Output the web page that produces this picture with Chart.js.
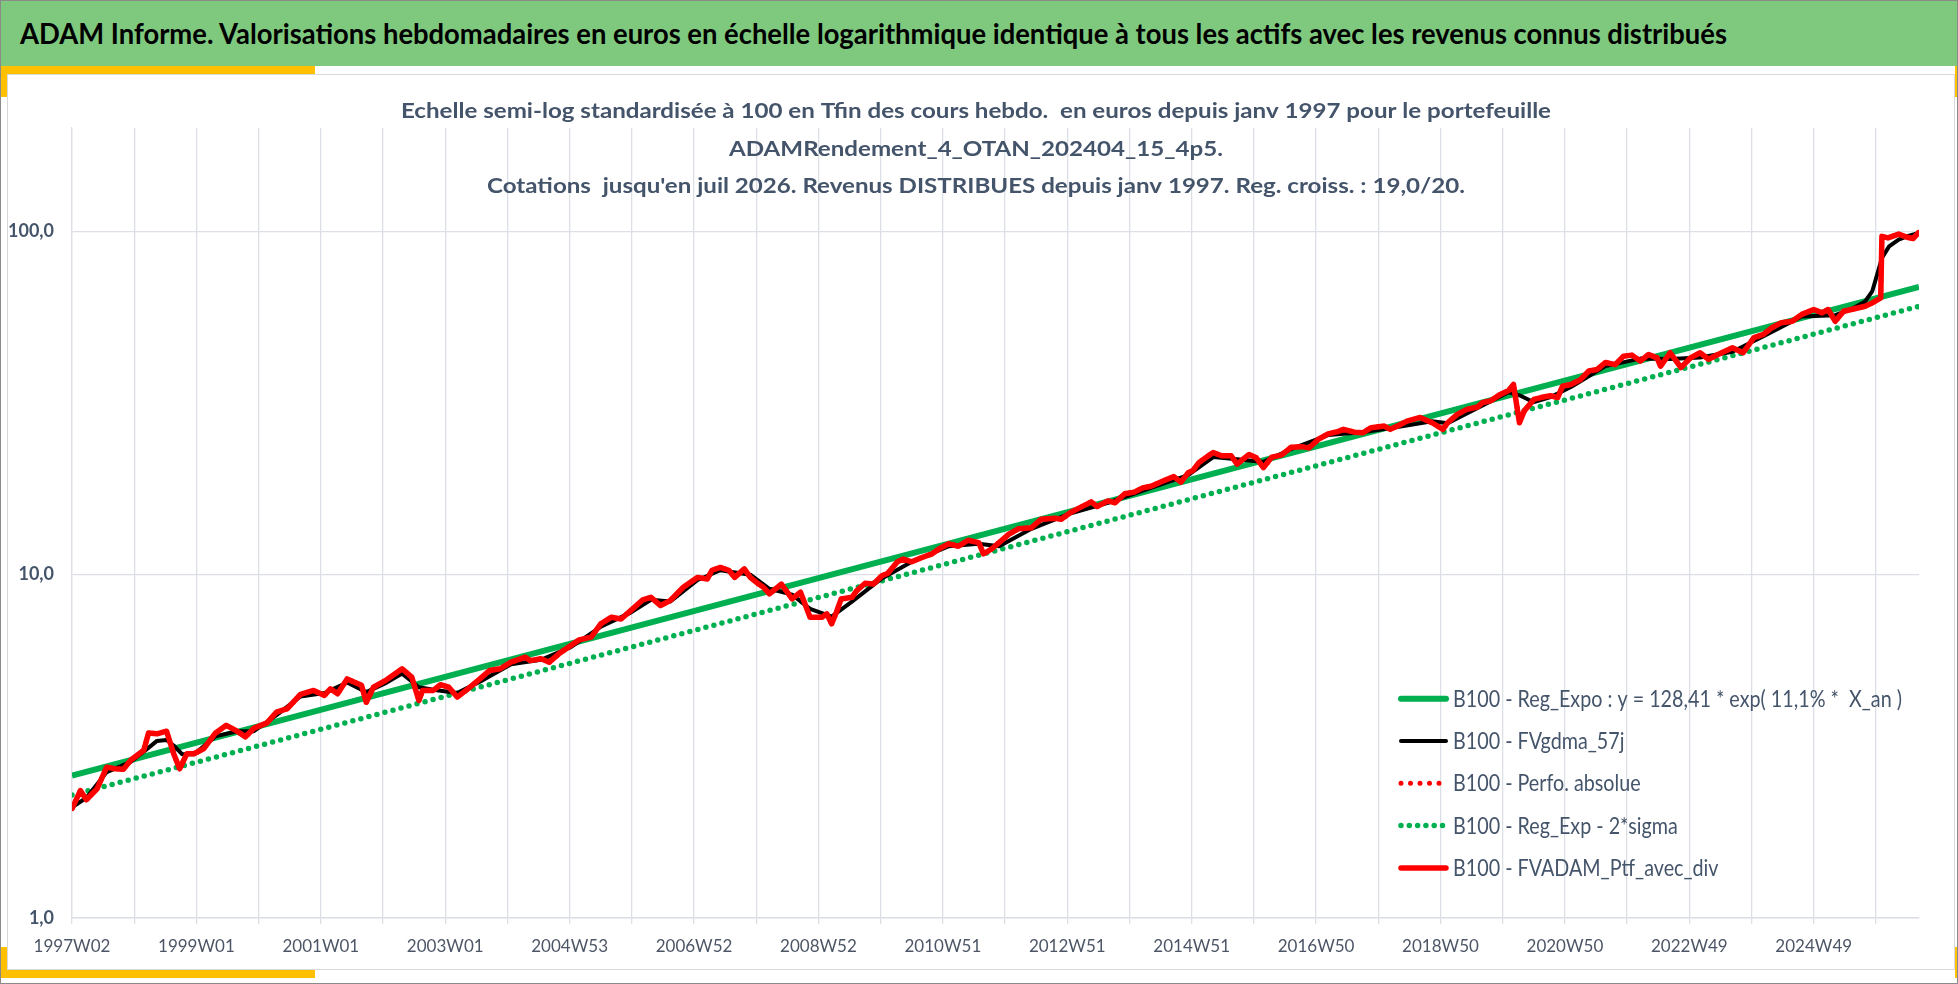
<!DOCTYPE html>
<html>
<head>
<meta charset="utf-8">
<script src="https://cdn.jsdelivr.net/npm/chart.js@4.4.1/dist/chart.umd.min.js"></script>
<style>
html,body{margin:0;padding:0;background:#fff;}
#page{position:relative;width:1958px;height:984px;overflow:hidden;background:#fff;}
.abs{position:absolute;}
#header{left:0;top:0;width:1958px;height:66px;background:#7FC97F;}
#headerText{position:absolute;left:20px;top:0;height:66px;line-height:66px;white-space:nowrap;font-family:Lato,'Noto Sans',sans-serif;font-weight:700;color:#000;transform-origin:0 50%;}
.yel{background:#FFC000;}
#panel{left:7px;top:74px;width:1948px;height:896px;box-sizing:border-box;border:1px solid #D9D9D9;}
#frame{left:0;top:0;width:1958px;height:984px;box-sizing:border-box;border:1px solid #8A8A8A;pointer-events:none;}
#c{position:absolute;left:0;top:0;}
</style>
</head>
<body>
<div id="page">
  <div id="header" class="abs"><div id="headerText"></div></div>
  <div class="abs yel" style="left:0;top:66px;width:315px;height:8px"></div>
  <div class="abs yel" style="left:0;top:66px;width:7px;height:31px"></div>
  <div class="abs yel" style="left:1955px;top:66px;width:3px;height:31px"></div>
  <div id="panel" class="abs"></div>
  <div class="abs yel" style="left:0;top:947px;width:7px;height:31px"></div>
  <div class="abs yel" style="left:0;top:970px;width:315px;height:8px"></div>
  <div class="abs yel" style="left:1955px;top:947px;width:3px;height:31px"></div>
  <canvas id="c" width="1958" height="984"></canvas>
  <div id="frame" class="abs"></div>
</div>
<script>
// ---------- DATA ----------
const headerTitle = "ADAM Informe. Valorisations hebdomadaires en euros en échelle logarithmique identique à tous les actifs avec les revenus connus distribués";
const subtitleLines = [
  "Echelle semi-log standardisée à 100 en Tfin des cours hebdo.  en euros depuis janv 1997 pour le portefeuille",
  "ADAMRendement_4_OTAN_202404_15_4p5.",
  "Cotations  jusqu'en juil 2026. Revenus DISTRIBUES depuis janv 1997. Reg. croiss. : 19,0/20."
];
// x tick labels (every 104 weeks from 1997W02)
const xTickLabels = ['1997W02','1999W01','2001W01','2003W01','2004W53','2006W52','2008W52','2010W51','2012W51','2014W51','2016W50','2018W50','2020W50','2022W49','2024W49'];
const yTickValues = [1, 10, 100];

// week index since 1997W02
const ptfWeeks = [
  0,7,12,21,29,36,43,49,60,64,
  71,79,85,90,96,102,110,120,129,138,
  145,152,163,171,180,191,202,211,216,222,
  230,242,246,252,263,276,284,290,293,302,
  308,315,322,331,341,349,358,367,379,383,
  392,399,407,417,424,434,442,451,459,467,
  477,484,492,500,511,523,531,535,542,549,
  554,562,567,574,578,583,593,602,609,617,
  627,631,635,639,643,652,656,663,670,677,
  682,690,695,702,710,719,725,733,741,749,
  758,762,769,775,783,791,802,810,822,827,
  835,843,852,857,866,872,880,888,895,902,
  913,921,927,933,937,942,950,954,961,969,
  974,979,984,990,996,1003,1011,1019,1028,1034,
  1042,1050,1058,1063,1072,1079,1086,1097,1102,1108,
  1116,1127,1137,1146,1150,1158,1166,1175,1179,1186,
  1194,1201,1205,1210,1214,1222,1228,1236,1242,1246,
  1253,1261,1268,1275,1282,1290,1297,1304,1311,1318,
  1325,1328,1336,1345,1353,1361,1368,1376,1388,1397,
  1406,1414,1421,1429,1438,1446,1456,1463,1468,1474,
  1481,1491,1499,1505,1512,1513,1518,1527,1534,1539,
  1544
];
const ptfValues = [
  2.08,2.35,2.21,2.38,2.75,2.72,2.71,2.88,3.08,3.46,
  3.44,3.50,3.01,2.72,3.01,3.01,3.11,3.46,3.64,3.50,
  3.37,3.57,3.70,3.98,4.07,4.48,4.60,4.45,4.65,4.50,
  4.97,4.76,4.25,4.70,4.94,5.32,5.03,4.30,4.60,4.60,
  4.78,4.70,4.40,4.65,4.97,5.26,5.32,5.56,5.75,5.62,
  5.69,5.56,5.88,6.22,6.46,6.58,7.19,7.52,7.43,7.86,
  8.44,8.59,8.13,8.40,9.19,9.82,9.71,10.3,10.5,10.3,
  9.82,10.4,9.82,9.39,9.19,8.79,9.39,8.50,8.89,7.52,
  7.52,7.69,7.19,7.77,8.50,8.59,8.98,9.44,9.39,9.93,
  10.1,10.9,11.1,10.9,11.2,11.5,11.9,12.3,12.1,12.6,
  12.4,11.5,11.9,12.4,13.1,13.6,13.7,14.5,14.6,14.5,
  15.2,15.7,16.3,15.8,16.4,16.2,17.2,17.4,17.9,18.1,
  18.8,19.3,18.6,19.8,20.1,21.2,22.2,22.7,22.2,22.2,
  21.0,21.7,22.4,21.9,20.5,22.0,22.3,23.5,23.6,23.4,
  24.8,25.7,26.1,26.5,26.0,25.9,26.8,27.1,26.5,27.1,
  28.0,28.7,27.7,26.5,27.7,29.3,30.3,30.8,31.7,32.1,
  33.5,34.4,35.8,27.7,30.0,32.4,32.8,33.2,32.8,35.4,
  35.8,37.0,39.2,39.6,41.5,40.9,43.3,43.6,41.9,43.8,
  42.8,40.5,44.3,40.1,42.8,44.3,42.4,43.8,45.8,44.3,
  49.0,50.1,52.4,54.2,54.7,57.3,59.2,57.9,59.2,54.7,
  58.5,59.6,60.5,61.9,64.0,96.7,95.7,98.2,96.1,95.3,
  99.5
];
const gdmaWeeks = [
  0,12,29,49,60,71,79,85,92,102,
  120,138,152,171,191,211,230,246,263,276,
  290,302,322,341,367,392,417,442,467,484,
  500,523,542,567,583,602,617,635,652,677,
  702,733,758,775,802,835,866,902,933,954,
  974,996,1019,1050,1079,1108,1137,1150,1175,1201,
  1210,1222,1236,1253,1282,1311,1336,1361,1388,1414,
  1446,1474,1488,1499,1505,1509,1513,1519,1527,1535,
  1544
];
const gdmaValues = [
  2.10,2.24,2.66,2.85,3.05,3.28,3.30,3.18,3.00,3.00,
  3.38,3.50,3.50,3.90,4.42,4.52,4.85,4.55,4.85,5.15,
  4.70,4.62,4.52,4.88,5.48,5.65,6.15,7.05,7.75,8.45,
  8.35,9.65,10.3,10.0,9.1,8.75,7.95,7.55,8.35,9.75,
  10.9,12.1,12.3,12.1,13.6,15.1,16.2,17.9,19.5,22.0,
  21.7,21.3,23.2,25.5,26.0,26.9,28.0,27.6,30.6,34.0,
  33.3,31.8,32.9,35.2,40.5,42.6,42.5,42.9,44.6,49.5,
  56.5,57.0,59.5,62.5,67.0,74.8,83.6,90.4,94.6,97.0,
  99.0
];
const regWeeks = [0, 1544];
const regValues = [2.60, 68.9];
const sigmaValues = [2.28, 60.5];

const seriesLabels = {
  reg: 'B100 - Reg_Expo : y = 128,41 * exp( 11,1% *  X_an )',
  gdma: 'B100 - FVgdma_57j',
  perfo: 'B100 - Perfo. absolue',
  sigma: 'B100 - Reg_Exp - 2*sigma',
  ptf: 'B100 - FVADAM_Ptf_avec_div'
};

// ---------- STYLE ----------
const GRID = '#DCDFE6';
const SLATE = '#44546A';
const FAMILY = 'Lato, "Noto Sans", sans-serif';

const measureCtx = document.createElement('canvas').getContext('2d');
function widthAt(text, weight, size) {
  measureCtx.font = weight + ' ' + size + 'px ' + FAMILY;
  return measureCtx.measureText(text).width;
}
// font sizes chosen by glyph height, condensed horizontally to the reference widths
const headerSize = 28;
const headerScale = 1708 / widthAt(headerTitle, 700, headerSize);
const subSize = 21.5;
const subScale = 1150 / widthAt(subtitleLines[0], 700, subSize);
const legSize = 22.3;
const legScale = 449 / widthAt(seriesLabels.reg, 400, legSize);

const ht = document.getElementById('headerText');
ht.textContent = headerTitle;
ht.style.fontSize = headerSize + 'px';
ht.style.transform = 'scaleX(' + headerScale.toFixed(4) + ')';

const pts = (ws, vs) => ws.map((w, i) => ({x: w, y: vs[i]}));

const datasets = [
  {label: seriesLabels.ptf, data: pts(ptfWeeks, ptfValues), borderColor: '#FF0000', borderWidth: 5.5, order: 0},
  {label: seriesLabels.perfo, data: pts(ptfWeeks, ptfValues), borderColor: '#FF0000', borderWidth: 5, borderDash: [0, 9.5], borderCapStyle: 'round', order: 1},
  {label: seriesLabels.gdma, data: pts(gdmaWeeks, gdmaValues), borderColor: '#000000', borderWidth: 4, order: 2},
  {label: seriesLabels.sigma, data: pts(regWeeks, sigmaValues), borderColor: '#00B050', borderWidth: 5.5, borderDash: [0, 8.3], borderCapStyle: 'round', order: 3},
  {label: seriesLabels.reg, data: pts(regWeeks, regValues), borderColor: '#00B050', borderWidth: 6, order: 4}
];
datasets.forEach(d => { d.pointRadius = 0; d.fill = false; d.tension = 0; d.borderJoinStyle = 'round'; });
const legendOrder = [4, 2, 1, 3, 0];

function scaledText(c, text, x, y, sx) {
  c.save();
  c.translate(x, y);
  c.scale(sx, 1);
  c.fillText(text, 0, 0);
  c.restore();
}

const decor = {
  id: 'decor',
  afterDraw(chart) {
    const c = chart.ctx;
    c.save();
    c.fillStyle = SLATE;
    c.textAlign = 'center';
    c.textBaseline = 'alphabetic';
    c.font = '700 ' + subSize + 'px ' + FAMILY;
    subtitleLines.forEach((t, i) => scaledText(c, t, 976, 118 + i * 37.5, subScale));
    legendOrder.forEach((di, i) => {
      const ds = chart.data.datasets[di];
      const base = 706.7 + i * 42.3;
      const y = base - 8;
      c.beginPath();
      c.strokeStyle = ds.borderColor;
      c.lineWidth = ds.borderWidth;
      c.setLineDash(ds.borderDash || []);
      c.lineCap = 'round';
      c.moveTo(1401, y);
      c.lineTo(1446, y);
      c.stroke();
      c.setLineDash([]);
      c.fillStyle = SLATE;
      c.textAlign = 'left';
      c.textBaseline = 'alphabetic';
      c.font = '400 ' + legSize + 'px ' + FAMILY;
      scaledText(c, ds.label, 1453, base, legScale);
    });
    c.restore();
  }
};

new Chart(document.getElementById('c'), {
  type: 'line',
  data: {datasets},
  options: {
    responsive: false,
    animation: false,
    events: [],
    layout: {padding: {top: 128, right: 39, bottom: 0, left: 0}},
    plugins: {legend: {display: false}, tooltip: {enabled: false}, title: {display: false}},
    scales: {
      x: {
        type: 'linear',
        min: 0,
        max: ptfWeeks[ptfWeeks.length - 1],
        afterBuildTicks: s => { const t = []; for (let v = 0; v <= s.max; v += 52) t.push({value: v}); s.ticks = t; },
        afterFit: s => { s.height = 66; },
        grid: {color: GRID, lineWidth: 1.3, tickLength: 6, drawTicks: true},
        border: {display: true, color: GRID, width: 1.5},
        ticks: {
          autoSkip: false, maxRotation: 0, minRotation: 0, padding: 12,
          color: '#4D5666', font: {family: FAMILY, size: 17},
          callback: v => (v % 104 === 0) ? xTickLabels[v / 104] : ''
        }
      },
      y: {
        type: 'logarithmic',
        min: 1,
        max: 200,
        afterBuildTicks: s => { s.ticks = yTickValues.map(v => ({value: v})); },
        afterFit: s => { s.width = 72; },
        grid: {color: GRID, lineWidth: 1.3, drawTicks: false},
        border: {display: true, color: GRID, width: 1.3},
        ticks: {
          padding: 18, color: SLATE, font: {family: FAMILY, size: 18, weight: 'bold'},
          callback: v => Number(v).toFixed(1).replace('.', ',')
        }
      }
    }
  },
  plugins: [decor]
});
</script>
</body>
</html>
